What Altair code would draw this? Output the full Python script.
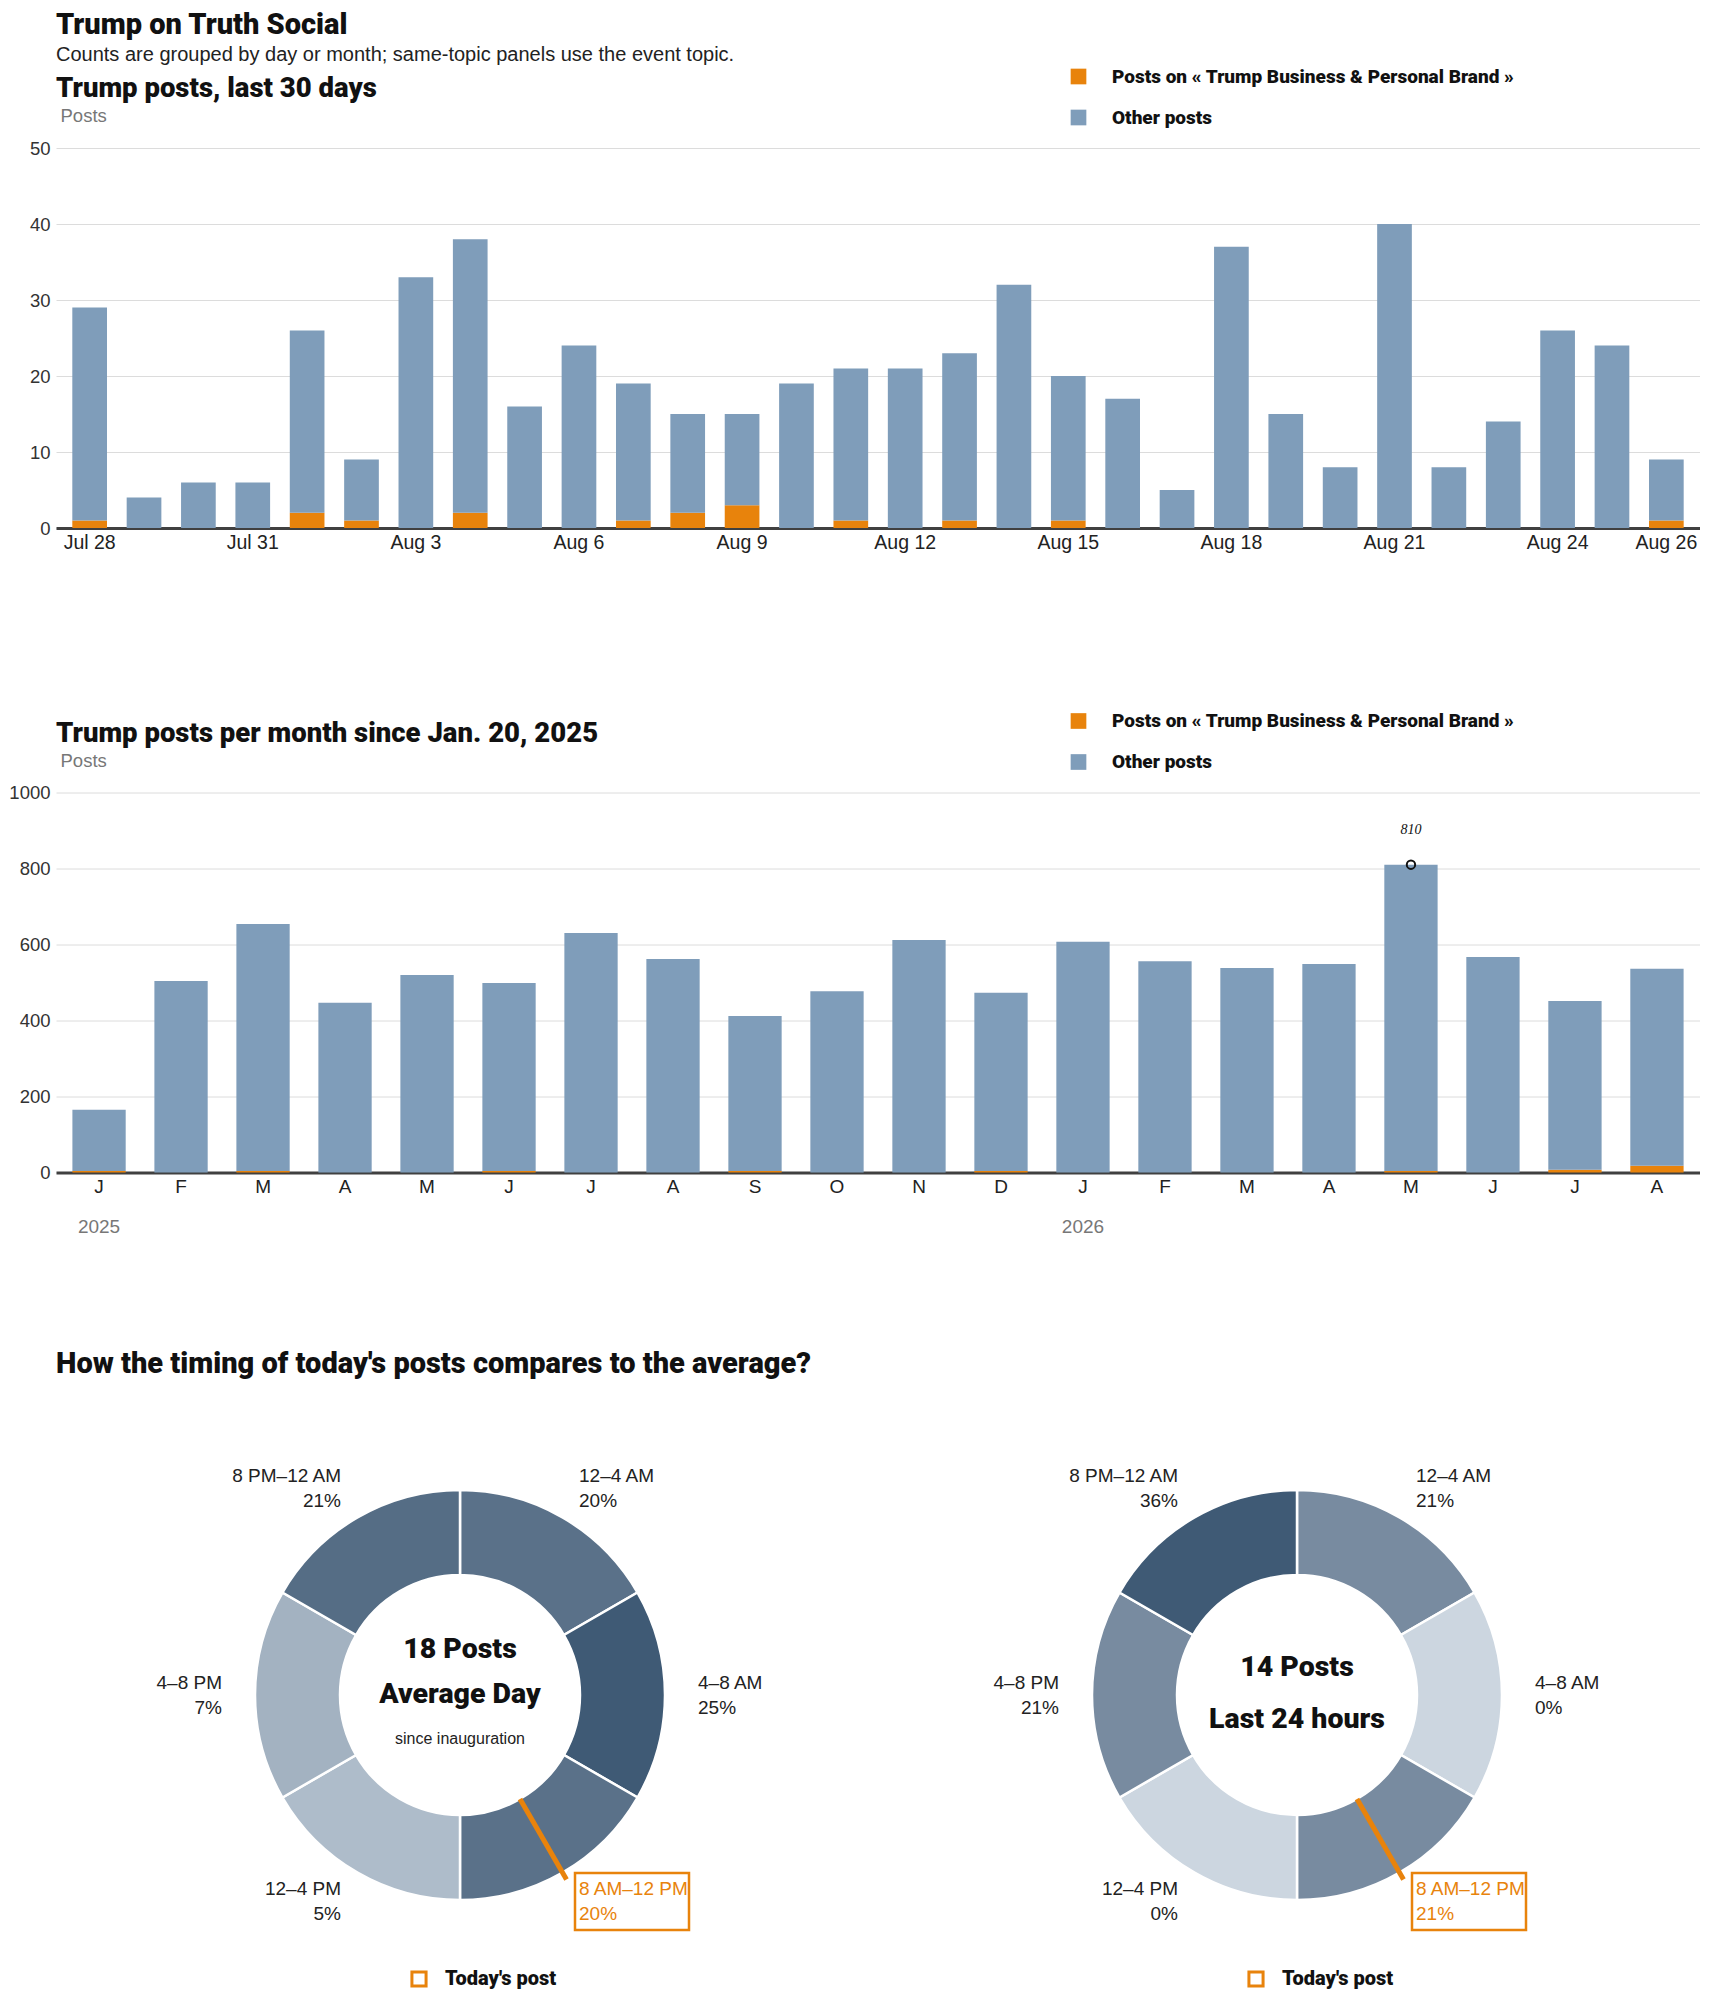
import math
import altair as alt
import pandas as pd

# ---------------- data ----------------
BRAND = "Posts on « Trump Business & Personal Brand »"
OTHER = "Other posts"

day_labels = ["Jul 28", "Jul 29", "Jul 30", "Jul 31"] + [f"Aug {d}" for d in range(1, 27)]
day_totals = [29, 4, 6, 6, 26, 9, 33, 38, 16, 24, 19, 15, 15, 19, 21,
              21, 23, 32, 20, 17, 5, 37, 15, 8, 40, 8, 14, 26, 24, 9]
day_brand = [1, 0, 0, 0, 2, 1, 0, 2, 0, 0, 1, 2, 3, 0, 1,
             0, 1, 0, 1, 0, 0, 0, 0, 0, 0, 0, 0, 0, 0, 1]
day_ticks = ["Jul 28", "Jul 31", "Aug 3", "Aug 6", "Aug 9", "Aug 12",
             "Aug 15", "Aug 18", "Aug 21", "Aug 24", "Aug 26"]

month_keys = [f"2025-{m:02d}" for m in range(1, 13)] + [f"2026-{m:02d}" for m in range(1, 9)]
month_totals = [165, 504, 654, 447, 520, 499, 630, 562, 412, 477, 612, 473,
                607, 556, 538, 549, 810, 567, 451, 536]
month_brand = [4, 0, 4, 0, 0, 4, 0, 0, 4, 0, 0, 4,
               0, 0, 0, 0, 4, 0, 7, 18]
month_letters = ["J", "F", "M", "A", "M", "J", "J", "A", "S", "O", "N", "D"]
year_keys = ["2025-01", "2026-01"]
year_labels = ["2025", "2026"]
peak_key = "2026-05"
peak_value = 810

slot_names = ["12–4 AM", "4–8 AM", "8 AM–12 PM", "12–4 PM", "4–8 PM", "8 PM–12 AM"]
avg_pct = [20, 25, 20, 5, 7, 21]
day_pct = [21, 0, 21, 0, 21, 36]
today_slot = 2
avg_posts = 18
day_posts = 14

ORANGE = "#e8830c"
BLUE = "#7f9dba"
FONT = "Liberation Sans"
HEAVY = "Roboto"

# ---------------- chart 1 ----------------
rows = []
for lab, tot, br in zip(day_labels, day_totals, day_brand):
    rows.append({"day": lab, "series": BRAND, "value": br, "ord": 0})
    rows.append({"day": lab, "series": OTHER, "value": tot - br, "ord": 1})
df_days = pd.DataFrame(rows)

color_scale = alt.Scale(domain=[BRAND, OTHER], range=[ORANGE, BLUE])


def legend_def():
    return alt.Legend(title=None, orient="none", legendX=1013, legendY=-81,
                      symbolType="square", symbolSize=246, symbolStrokeWidth=0,
                      labelFontSize=19, labelFontWeight=900, labelColor="#111",
                      labelFont=HEAVY, labelOffset=24, rowPadding=21, labelLimit=800,
                      direction="vertical")


def y_axis(values):
    return alt.Axis(title="Posts", titleAngle=0, titleAlign="left", titleBaseline="alphabetic",
                    titleX=4, titleY=-26.5, titleColor="#777", titleFontWeight="normal",
                    titleFontSize=18.5, titleFont=FONT, values=values, grid=True, format="d",
                    gridColor="#dcdcdc", domain=False, ticks=False, labelFontSize=18.5,
                    labelColor="#333", labelPadding=6, minExtent=48, maxExtent=48)


def title_def(text):
    return alt.TitleParams(text, anchor="start", fontSize=27.5, fontWeight=900, font=HEAVY,
                           color="#111", offset=-35.5, frame="group")


tick_list = "[" + ",".join(f"'{t}'" for t in day_ticks) + "]"
chart1 = alt.Chart(df_days).mark_bar().encode(
    x=alt.X("day:N", sort=day_labels, title=None,
            scale=alt.Scale(paddingInner=0.362, paddingOuter=0.3),
            axis=alt.Axis(labelAngle=0, ticks=False, domainColor="#404040", domainWidth=3,
                          labelFontSize=19.5, labelColor="#222", labelPadding=5,
                          minExtent=70, maxExtent=70,
                          labelExpr=f"indexof({tick_list}, datum.value) >= 0 ? datum.value : ''")),
    y=alt.Y("value:Q", stack="zero", scale=alt.Scale(domain=[0, 50]),
            axis=y_axis([0, 10, 20, 30, 40, 50])),
    color=alt.Color("series:N", scale=color_scale, legend=legend_def()),
    order=alt.Order("ord:Q", sort="ascending"),
).properties(width=1644, height=380, title=title_def("Trump posts, last 30 days"))

# ---------------- chart 2 ----------------
rows = []
for k, tot, br in zip(month_keys, month_totals, month_brand):
    rows.append({"month": k, "series": BRAND, "value": br, "ord": 0})
    rows.append({"month": k, "series": OTHER, "value": tot - br, "ord": 1})
df_months = pd.DataFrame(rows)
letters = "[" + ",".join(f"'{l}'" for l in month_letters) + "]"

xm = alt.X("month:N", sort=month_keys, title=None,
           scale=alt.Scale(paddingInner=0.35, paddingOuter=0.2),
           axis=alt.Axis(labelAngle=0, ticks=False, domainColor="#404040", domainWidth=3,
                         labelFontSize=19, labelColor="#222", labelPadding=5,
                         labelExpr=f"{letters}[toNumber(substring(datum.value, 5, 7)) - 1]"))

bars2 = alt.Chart(df_months).mark_bar().encode(
    x=xm,
    y=alt.Y("value:Q", stack="zero", scale=alt.Scale(domain=[0, 1000]),
            axis=y_axis([0, 200, 400, 600, 800, 1000])),
    color=alt.Color("series:N", scale=color_scale, legend=legend_def()),
    order=alt.Order("ord:Q", sort="ascending"),
)
df_peak = pd.DataFrame({"month": [peak_key], "value": [peak_value], "label": [str(peak_value)]})
peak_pt = alt.Chart(df_peak).mark_point(shape="circle", filled=False, color="#111",
                                        strokeWidth=2, size=70, opacity=1).encode(
    x=alt.X("month:N", sort=month_keys), y="value:Q")
peak_txt = alt.Chart(df_peak).mark_text(font="Liberation Serif", fontStyle="italic", fontSize=14,
                                        color="#111", dy=-35).encode(
    x=alt.X("month:N", sort=month_keys), y="value:Q", text="label:N")
df_years = pd.DataFrame({"month": year_keys, "label": year_labels})
years = alt.Chart(df_years).mark_text(fontSize=19, color="#777", font=FONT, baseline="middle").encode(
    x=alt.X("month:N", sort=month_keys), y=alt.value(434), text="label:N")

chart2 = alt.layer(bars2, peak_pt, peak_txt, years).properties(
    width=1644, height=380, title=title_def("Trump posts per month since Jan. 20, 2025"))

# ---------------- donuts ----------------
W3, H3 = 1640, 610
centers = [(404, 306), (1241, 306)]
R_OUT, R_IN, R_LAB = 205, 120, 238
LINE_H = 25
LIGHT, DARK = "#ccd6e0", "#3f5a75"

arc_rows, lab_rows = [], []
for p, pcts in enumerate([avg_pct, day_pct]):
    cx, cy = centers[p]
    mx = max(pcts)
    for i, (name, pct) in enumerate(zip(slot_names, pcts)):
        a0, a1 = i * 60, (i + 1) * 60
        mid = math.radians(a0 + 30)
        arc_rows.append({"cx": cx, "cy": cy, "a0": a0, "a1": a1, "t": pct / mx})
        lab_rows.append({"x": cx + R_LAB * math.sin(mid),
                         "y": cy - R_LAB * math.cos(mid) - LINE_H / 2,
                         "text": [name, f"{pct}%"], "side": "right" if i < 3 else "left",
                         "hl": i == today_slot})
df_arc = pd.DataFrame(arc_rows)
df_lab = pd.DataFrame(lab_rows)

xs = alt.Scale(domain=[0, W3], nice=False, zero=False)
ys = alt.Scale(domain=[0, H3], nice=False, zero=False, reverse=True)
X = lambda f: alt.X(f, scale=xs, axis=None)
Y = lambda f: alt.Y(f, scale=ys, axis=None)

arcs = alt.Chart(df_arc).mark_arc(radius=R_OUT, radius2=R_IN, stroke="white", strokeWidth=2.5).encode(
    x=X("cx:Q"), y=Y("cy:Q"),
    theta=alt.Theta("a0:Q", scale=alt.Scale(domain=[0, 360], range=[0, 2 * math.pi]), stack=False),
    theta2="a1:Q",
    color=alt.Color("t:Q", scale=alt.Scale(domain=[0, 1], range=[LIGHT, DARK]), legend=None),
)


def lab_layer(side, hl, align):
    d = df_lab[(df_lab.side == side) & (df_lab.hl == hl)]
    return alt.Chart(d).mark_text(align=align, baseline="middle", fontSize=19, lineHeight=LINE_H,
                                  font=FONT, color=ORANGE if hl else "#222").encode(
        x=X("x:Q"), y=Y("y:Q"), text="text")


labs = [lab_layer("right", False, "left"), lab_layer("right", True, "left"),
        lab_layer("left", False, "right")]

ptr_rows, box_rows, leg_rows = [], [], []
mid = math.radians(today_slot * 60 + 30)
for cx, cy in centers:
    ptr_rows.append({"x": cx + R_IN * math.sin(mid), "y": cy - R_IN * math.cos(mid),
                     "x2": cx + 213 * math.sin(mid), "y2": cy - 213 * math.cos(mid)})
    lx, ly = cx + R_LAB * math.sin(mid), cy - R_LAB * math.cos(mid)
    box_rows.append({"x": lx - 4, "x2": lx + 110, "y": ly - 28, "y2": ly + 29})
    leg_rows.append({"x": cx - 41, "y": cy + 284, "tx": cx - 15, "text": "Today's post"})
df_ptr = pd.DataFrame(ptr_rows)
df_box = pd.DataFrame(box_rows)
df_leg = pd.DataFrame(leg_rows)

ptr = alt.Chart(df_ptr).mark_rule(color=ORANGE, strokeWidth=5).encode(
    x=X("x:Q"), y=Y("y:Q"), x2="x2:Q", y2="y2:Q")
box = alt.Chart(df_box).mark_rect(fill=None, stroke=ORANGE, strokeWidth=2.5).encode(
    x=X("x:Q"), y=Y("y:Q"), x2="x2:Q", y2="y2:Q")
leg_sym = alt.Chart(df_leg).mark_point(shape="square", filled=False, stroke=ORANGE, strokeWidth=3,
                                       size=200, opacity=1).encode(x=X("x:Q"), y=Y("y:Q"))
leg_txt = alt.Chart(df_leg).mark_text(align="left", baseline="middle", fontSize=20, fontWeight=900,
                                      font=HEAVY, color="#111").encode(
    x=X("tx:Q"), y=Y("y:Q"), text="text:N")

ctr = pd.DataFrame([
    {"x": centers[0][0], "y": centers[0][1] - 46, "text": f"{avg_posts} Posts", "k": "big"},
    {"x": centers[0][0], "y": centers[0][1] - 1.5, "text": "Average Day", "k": "big"},
    {"x": centers[0][0], "y": centers[0][1] + 44, "text": "since inauguration", "k": "small"},
    {"x": centers[1][0], "y": centers[1][1] - 28.5, "text": f"{day_posts} Posts", "k": "big"},
    {"x": centers[1][0], "y": centers[1][1] + 24, "text": "Last 24 hours", "k": "big"},
])
ctr_big = alt.Chart(ctr[ctr.k == "big"]).mark_text(fontSize=28.5, fontWeight=900, font=HEAVY,
                                                   color="#111", baseline="middle").encode(
    x=X("x:Q"), y=Y("y:Q"), text="text:N")
ctr_small = alt.Chart(ctr[ctr.k == "small"]).mark_text(fontSize=16, font=FONT, color="#222",
                                                       baseline="middle").encode(
    x=X("x:Q"), y=Y("y:Q"), text="text:N")

chart3 = alt.layer(arcs, ptr, *labs, box, ctr_big, ctr_small, leg_sym, leg_txt).properties(
    width=W3, height=H3,
    title=alt.TitleParams("How the timing of today's posts compares to the average?", anchor="start",
                          fontSize=29, fontWeight=900, font=HEAVY, color="#111", offset=10),
)

chart = alt.vconcat(chart1, chart2, chart3, spacing=113.5).resolve_scale(
    color="independent", x="independent", y="independent"
).resolve_legend(color="independent").properties(
    title=alt.TitleParams("Trump on Truth Social",
                          subtitle="Counts are grouped by day or month; same-topic panels use the event topic.",
                          anchor="start", fontSize=29, fontWeight=900, font=HEAVY, color="#111",
                          subtitleFontSize=20, subtitleFont=FONT, subtitleColor="#222",
                          subtitlePadding=5, dx=48, offset=2)
).configure(padding={"top": 3, "left": 0, "right": 0, "bottom": 0}).configure_view(
    stroke=None).configure_axis(labelFont=FONT)

chart.save("out.html", embed_options={"renderer": "svg", "actions": False})
